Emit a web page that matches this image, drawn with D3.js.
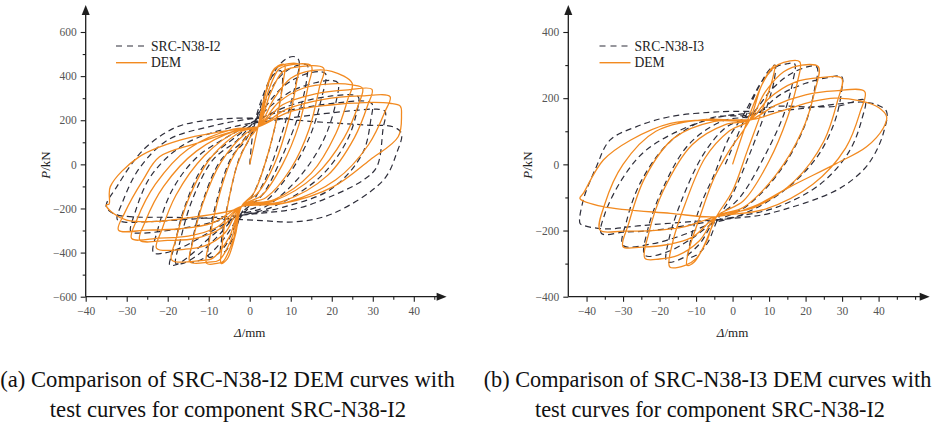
<!DOCTYPE html>
<html><head><meta charset="utf-8">
<script src="https://cdn.jsdelivr.net/npm/d3@7"></script>
<style>body{margin:0;background:#fff} svg{display:block} text{font-family:"Liberation Serif","Times New Roman","DejaVu Serif",serif;}</style>
</head><body>
<script>
// ---------- tick values ----------
const xTicksA=[-40,-30,-20,-10,0,10,20,30,40];
const xMinorA=[-35,-25,-15,-5,5,15,25,35,45];
const yTicksA=[-600,-400,-200,0,200,400,600];
const yMinorA=[-500,-300,-100,100,300,500];
const xTicksB=[-40,-30,-20,-10,0,10,20,30,40];
const xMinorB=[-35,-25,-15,-5,5,15,25,35,45,50];
const yTicksB=[-400,-200,0,200,400];
const yMinorB=[-300,-100,100,300];
// ---------- texts ----------
const legendA=["SRC-N38-I2","DEM"];
const legendB=["SRC-N38-I3","DEM"];
const captionA=["(a) Comparison of SRC-N38-I2 DEM curves with","test curves for component SRC-N38-I2"];
const captionB=["(b) Comparison of SRC-N38-I3 DEM curves with","test curves for component SRC-N38-I2"];
// ---------- series: hysteresis loops [displacement mm, load kN] ----------
const testI2Loops=[
 [[0,0],[1,170],[3,300],[5.5,400],[7.5,425],[8,400],[7,250],[4.5,50],[1,-130],[-2,-220],[-4,-330],[-6,-395],[-7,-400],[-6.8,-330],[-5,-150],[-2.5,30]],
 [[0,120],[3,280],[6,420],[9,480],[11,488],[12,470],[11,350],[8,150],[4,-60],[0,-190],[-3,-260],[-6,-370],[-8.5,-415],[-10,-420],[-10,-350],[-8,-160],[-4.5,30]],
 [[-1,110],[3,260],[7,390],[11,445],[14,450],[14,400],[12,230],[8,40],[3,-140],[-2,-220],[-6,-330],[-10,-410],[-13,-440],[-14.5,-440],[-14,-350],[-11.5,-170],[-7,20]],
 [[-2,100],[3,240],[8,350],[13,405],[17,420],[18.5,410],[17.5,300],[14.5,120],[9,-60],[3,-180],[-3,-230],[-8,-330],[-13,-415],[-16.5,-450],[-18,-450],[-17,-350],[-14,-160],[-9,20]],
 [[-3,110],[3,230],[10,330],[16,370],[20,380],[21.5,370],[21,280],[18,110],[12,-60],[4,-190],[-3,-235],[-9,-320],[-15,-420],[-18,-455],[-19.5,-457],[-18.5,-380],[-16,-200],[-11,0]],
 [[-3,130],[4,220],[12,280],[20,310],[25,315],[26.5,305],[26,230],[23.5,100],[17,-60],[6,-190],[-3,-240],[-10,-310],[-17,-380],[-21.5,-404],[-23.5,-400],[-22.5,-300],[-19,-120],[-13,30]],
 [[-4,140],[4,220],[14,260],[22,280],[28,287],[29.8,275],[29.5,200],[27.5,50],[20,-110],[8,-195],[-3,-235],[-12,-275],[-22,-305],[-27,-312],[-29,-305],[-28,-220],[-24,-50],[-16,90]],
 [[-4,170],[6,200],[16,225],[26,245],[31,250],[33,240],[32.5,160],[31,-11],[27.7,-71],[19.6,-147],[11.5,-200],[2.5,-222],[-14,-248],[-25,-260],[-30.5,-262],[-32.3,-250],[-31,-170],[-27,-20],[-20,110],[-10,170]],
 [[2.5,209],[16,193],[28.5,178],[35,170],[37,140],[35.8,50],[32.6,-71],[20.4,-222],[11.5,-260],[3,-255],[-8,-245],[-20,-240],[-28.4,-238],[-33,-225],[-35,-192],[-32.4,-101],[-26,65],[-18.6,163],[-12.9,193],[-4,209],[2.5,209]]
];
const demI2Loops=[
 [[0,0],[2,170],[3.5,300],[5.5,420],[7,448],[8.5,452],[8.2,380],[6.5,200],[4,20],[1,-130],[-2,-190],[-3.5,-320],[-5.5,-430],[-7,-449],[-6.8,-380],[-5.5,-200],[-3,0],[0,120]],
 [[2,170],[4,330],[6,430],[8,450],[12,452],[11.5,380],[9.5,200],[6,0],[2,-130],[-2,-190],[-4,-340],[-6.5,-440],[-8,-449],[-10.5,-449],[-10,-360],[-8,-180],[-4.5,20],[0,140]],
 [[2,170],[4.5,330],[7,430],[9,448],[15,446],[14.3,360],[12,180],[8,0],[3,-140],[-2,-190],[-4.5,-340],[-7.5,-435],[-10,-443],[-14.6,-442],[-14,-360],[-11.5,-180],[-7,10],[-1,140]],
 [[2,170],[5,320],[8,420],[11,440],[18,436],[17,350],[14.5,160],[10,-20],[4,-150],[-2,-190],[-5,-330],[-9,-425],[-12,-436],[-19,-434],[-18,-340],[-15,-160],[-9.5,30],[-2,150]],
 [[2,170],[6,300],[10,390],[15,425],[20,422],[25,367],[24,300],[21,140],[15,-40],[6,-160],[-2,-190],[-6,-310],[-11,-370],[-16,-385],[-22.7,-381],[-21.5,-300],[-18,-140],[-11,40],[-3,150]],
 [[2,170],[7,280],[13,345],[20,365],[25,360],[27.5,345],[26.5,270],[23,120],[16,-50],[6,-165],[-2,-190],[-7,-290],[-13,-335],[-20,-345],[-26.8,-343],[-25.5,-260],[-21,-100],[-13,60],[-3,155]],
 [[2,170],[8,270],[16,320],[24,338],[29.8,340],[28.8,270],[25.5,120],[19,-50],[8,-168],[-2,-190],[-8,-285],[-15,-325],[-22,-334],[-28.8,-336],[-27.5,-250],[-23,-90],[-15,70],[-4,160]],
 [[2,170],[9,250],[18,295],[27,310],[34.2,307],[33,240],[29,90],[21,-70],[9,-172],[-2,-190],[-9,-265],[-17,-292],[-25,-298],[-32,-298],[-30.5,-220],[-26,-70],[-22,34],[-13,95],[-4,150]],
 [[2,170],[10,240],[19.6,269],[28,280],[34.2,277],[36.7,264],[37,224],[36.2,125],[29.3,20],[20.4,-101],[8.2,-177],[-2,-190],[-4,-207],[-16,-245],[-24,-260],[-30,-253],[-33.3,-222],[-35,-185],[-34.3,-180],[-34,-101],[-27,34],[-17,110],[-7,148],[2,170]]
];
const testI3Loops=[
 [[-2,0],[3,130],[7,230],[10,285],[11.6,300],[11.5,260],[9,160],[5,40],[0,-90],[-4,-165],[-7,-240],[-10,-275],[-12,-280],[-11.5,-230],[-9,-130],[-5,-30],[-1,80]],
 [[3,150],[8,250],[12,295],[15,304],[17,304],[16.5,250],[14,150],[9,30],[2,-100],[-5,-170],[-9,-240],[-14,-285],[-18,-294],[-17.5,-230],[-14,-110],[-8,30],[-2,110]],
 [[5,150],[11,230],[17,280],[23,295],[22.5,230],[19.5,110],[13,-20],[4,-125],[-5,-175],[-12,-230],[-18,-265],[-24,-275],[-23.3,-200],[-19,-70],[-12,60],[-3,130]],
 [[6,150],[13,210],[20,245],[26,262],[29.9,265],[29.9,225],[28,130],[23,20],[14,-80],[3,-150],[-6,-180],[-14,-215],[-22,-240],[-30,-245],[-29,-170],[-25,-50],[-17,70],[-6,140]],
 [[5,150],[11,174],[20,174],[29,176],[36.2,194],[35.5,140],[32,40],[24,-60],[12,-130],[0,-160],[-10,-180],[-22,-200],[-30,-205],[-35.9,-209],[-35,-150],[-30,-40],[-24,40],[-15,100],[-5,140]],
 [[5,155],[10.2,159],[19.3,169],[28.5,182],[36,188],[40,178],[42.2,159],[41.3,94],[39,33],[35.8,-17],[28.5,-78],[10.2,-148],[3,-160],[-10,-172],[-25,-185],[-35,-195],[-41,-184],[-41.8,-178],[-40.9,-108],[-37.3,-7],[-33.6,73],[-26.3,114],[-17.2,144],[-3.5,159],[5,160]]
];
const demI3Loops=[
 [[0,0],[4,130],[8,240],[10,280],[11.6,300],[11,260],[8,160],[4,40],[0,-80],[-4.4,-158],[-8,-250],[-10.5,-295],[-12.5,-305],[-12,-260],[-9,-160],[-5,-40],[-1,40]],
 [[4.7,134],[8,240],[11,290],[14,308],[18.4,310],[17.8,250],[15,140],[10,10],[3,-110],[-4.4,-158],[-7,-230],[-10,-285],[-13,-305],[-17.2,-310],[-16.5,-240],[-13,-120],[-7.5,20],[-1,100]],
 [[4.7,134],[9,220],[14,280],[19,300],[23.5,295],[22.5,220],[19,100],[12,-30],[3,-130],[-4.4,-158],[-9,-230],[-15,-275],[-20,-286],[-24,-284],[-23,-210],[-19,-80],[-11,60],[-2,120]],
 [[4.7,134],[10,200],[17,248],[24,262],[29.9,260],[28.7,190],[25,70],[17,-50],[6,-130],[-4.4,-158],[-11,-220],[-18,-243],[-25,-250],[-30,-249],[-28.5,-180],[-24,-40],[-16,80],[-5,130]],
 [[4.7,134],[12,180],[20,210],[28,222],[36.2,220],[35,160],[31,50],[22,-60],[9,-135],[-4.4,-158],[-13,-188],[-22,-200],[-30,-202],[-36.3,-199],[-35,-120],[-30,0],[-21,100],[-8,135]],
 [[4.7,134],[13,160],[22,190],[28,200],[35,192],[40,172],[42.2,144],[41.3,110],[36.7,53],[28.5,3],[15.7,-68],[5.6,-128],[-4.4,-158],[-17,-148],[-35.4,-128],[-41.8,-103],[-40.9,-88],[-35.4,13],[-28,73],[-17,124],[-4.4,134],[4.7,134]]
];

const W=941,H=424;
const ORANGE="#f28a20", DASH="#2e2e3a", AXIS="#1e1e1e";
const svg=d3.select("body").append("svg").attr("width",W).attr("height",H);

function fmt(d){return d<0?"\u2212"+Math.abs(d):String(d);}

function panel(o){
  const x=d3.scaleLinear().domain(o.xd).range(o.xr);
  const y=d3.scaleLinear().domain(o.yd).range(o.yr);
  const g=svg.append("g");
  const line=d3.line().x(d=>x(d[0])).y(d=>y(d[1])).curve(d3.curveCatmullRom.alpha(0.5));
  g.append("path").attr("d",line(o.test.flat())).attr("fill","none")
    .attr("stroke",DASH).attr("stroke-width",1.2).attr("stroke-dasharray","6,4");
  g.append("path").attr("d",line(o.dem.flat())).attr("fill","none")
    .attr("stroke",ORANGE).attr("stroke-width",1.3).attr("stroke-linejoin","round");

  const x0=x(o.xd[0]), y0=y(o.yd[0]);
  const ya=g.append("g").attr("transform",`translate(${x0},0)`)
    .call(d3.axisLeft(y).tickValues(o.yt).tickSize(5).tickPadding(4).tickFormat(fmt));
  const yam=g.append("g").attr("transform",`translate(${x0},0)`)
    .call(d3.axisLeft(y).tickValues(o.ym).tickSize(3).tickFormat(""));
  const xa=g.append("g").attr("transform",`translate(0,${y0})`)
    .call(d3.axisBottom(x).tickValues(o.xt).tickSize(5).tickPadding(5).tickFormat(fmt));
  const xam=g.append("g").attr("transform",`translate(0,${y0})`)
    .call(d3.axisBottom(x).tickValues(o.xm).tickSize(3).tickFormat(""));
  [ya,yam,xa,xam].forEach(a=>{
    a.attr("font-family",null);
    a.select(".domain").remove();
    a.selectAll("line").attr("stroke",AXIS).attr("stroke-width",1.1);
    a.selectAll("text").attr("font-size",11.5).attr("fill","#555");
  });
  const xEnd=x(o.xd[1]);
  g.append("line").attr("x1",x0).attr("x2",xEnd-6).attr("y1",y0).attr("y2",y0)
    .attr("stroke",AXIS).attr("stroke-width",1.3);
  g.append("line").attr("x1",x0).attr("x2",x0).attr("y1",y0).attr("y2",11)
    .attr("stroke",AXIS).attr("stroke-width",1.3);
  g.append("path").attr("d",`M${x0},5L${x0-4},15L${x0+4},15Z`).attr("fill",AXIS);
  g.append("path").attr("d",`M${xEnd},${y0}L${xEnd-10},${y0-4}L${xEnd-10},${y0+4}Z`).attr("fill",AXIS);

  const yl=g.append("text").attr("transform",`translate(${o.ylx},165) rotate(-90)`)
    .attr("text-anchor","middle").attr("dominant-baseline","central")
    .attr("font-size",13).attr("fill","#222");
  yl.append("tspan").attr("font-style","italic").text("P");
  yl.append("tspan").text("/kN");
  const xl=g.append("text").attr("x",x(0)).attr("y",332)
    .attr("text-anchor","middle").attr("dominant-baseline","central")
    .attr("font-size",13).attr("fill","#222");
  xl.append("tspan").attr("font-style","italic").text("\u0394");
  xl.append("tspan").text("/mm");

  const lg=g.append("g");
  lg.append("line").attr("x1",o.lx).attr("x2",o.lx+31).attr("y1",46).attr("y2",46)
    .attr("stroke",DASH).attr("stroke-width",1.2).attr("stroke-dasharray","6,5");
  lg.append("line").attr("x1",o.lx).attr("x2",o.lx+31).attr("y1",62.7).attr("y2",62.7)
    .attr("stroke",ORANGE).attr("stroke-width",1.4);
  o.legend.forEach((t,i)=>{
    lg.append("text").attr("x",o.lx+35).attr("y",i?62.7:46).attr("dominant-baseline","central")
      .attr("font-size",13.6).attr("fill","#222").text(t);
  });

  let fs=22;
  o.caption.forEach((t,i)=>{
    const tx=svg.append("text").attr("x",o.cx[i]).attr("y",i?416.5:387).attr("text-anchor","middle")
      .attr("font-size",fs).attr("fill","#111").text(t);
    if(i===0){
      const len=tx.node().getComputedTextLength();
      fs=22*o.cw/len; tx.attr("font-size",fs);
    }
  });
}

panel({xd:[-40,48],xr:[85.7,446.6],yd:[-600,600],yr:[296.7,32],
  xt:xTicksA,xm:xMinorA,yt:yTicksA,ym:yMinorA,test:testI2Loops,dem:demI2Loops,
  ylx:45,lx:116,legend:legendA,caption:captionA,cx:[227.5,228],cw:455});
panel({xd:[-45,54],xr:[568.3,929.7],yd:[-400,400],yr:[296.7,32],
  xt:xTicksB,xm:xMinorB,yt:yTicksB,ym:yMinorB,test:testI3Loops,dem:demI3Loops,
  ylx:526.7,lx:599.5,legend:legendB,caption:captionB,cx:[707.5,710],cw:448});
</script>
</body></html>
